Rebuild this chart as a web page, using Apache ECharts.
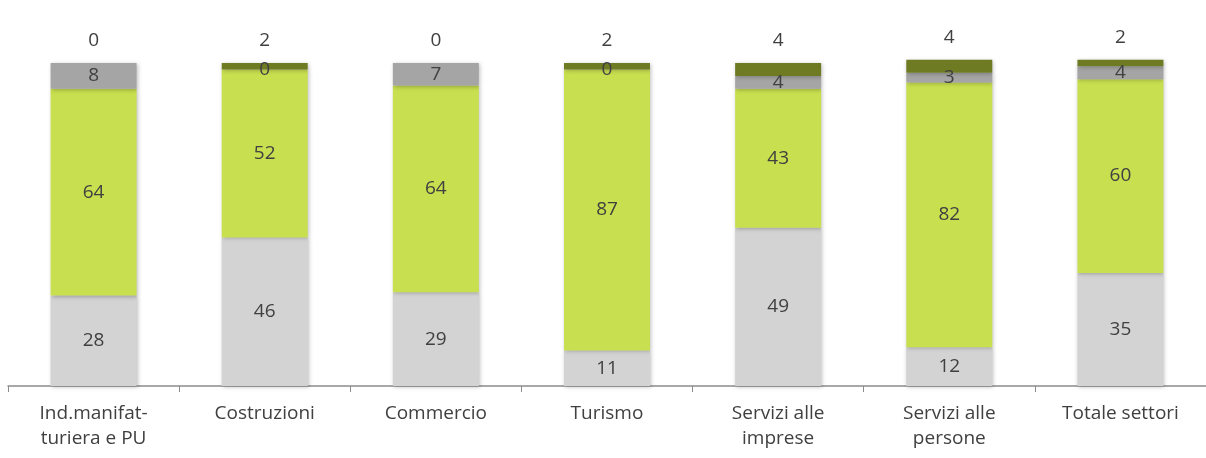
<!DOCTYPE html>
<html>
<head>
<meta charset="utf-8">
<script src="https://cdn.jsdelivr.net/npm/echarts@6/dist/echarts.min.js"></script>
<style>html,body{margin:0;padding:0;background:#fff;}#c{width:1206px;height:458px;}</style>
</head>
<body>
<div id="c"></div>
<script>
const categories = ["Ind.manifat-\nturiera e PU", "Costruzioni", "Commercio", "Turismo", "Servizi alle\nimprese", "Servizi alle\npersone", "Totale settori"];
const seriesA = [28, 46, 29, 11, 49, 12, 35];   // light gray (bottom)
const seriesB = [64, 52, 64, 87, 43, 82, 60];   // yellow-green
const seriesC = [8, 0, 7, 0, 4, 3, 4];          // mid gray
const seriesD = [0, 2, 0, 2, 4, 4, 2];          // olive (top)

const font = "'Open Sans', 'DejaVu Sans', sans-serif";
const textColor = '#404040';
function mk(name, data, color, pos) {
  return {
    name: name, type: 'bar', stack: 'tot', data: data, barWidth: 86, clip: false,
    itemStyle: { color: color, shadowBlur: 4, shadowColor: 'rgba(0,0,0,0.25)', shadowOffsetX: 1, shadowOffsetY: 1 },
    label: { show: true, position: pos, distance: pos === 'top' ? 13 : 5, color: textColor, fontSize: 19, fontFamily: font },
    z: 2
  };
}
const chart = echarts.init(document.getElementById('c'));
chart.setOption({
  animation: false,
  grid: { left: 8, right: -6, top: 63, bottom: 72, containLabel: false },
  xAxis: {
    type: 'category', data: categories,
    axisLine: { lineStyle: { color: '#8c8c8c', width: 1.5 } },
    axisTick: { show: true, length: 6, lineStyle: { color: '#8c8c8c' } },
    axisLabel: { color: textColor, fontSize: 19, fontFamily: font, margin: 15, lineHeight: 25, interval: 0 }
  },
  yAxis: { type: 'value', min: 0, max: 100, show: false, splitLine: { show: false } },
  series: [
    mk('A', seriesA, '#D3D3D3', 'inside'),
    mk('B', seriesB, '#C8DF4F', 'inside'),
    mk('C', seriesC, '#A5A5A5', 'inside'),
    mk('D', seriesD, '#6E7B22', 'top')
  ]
});
</script>
</body>
</html>
